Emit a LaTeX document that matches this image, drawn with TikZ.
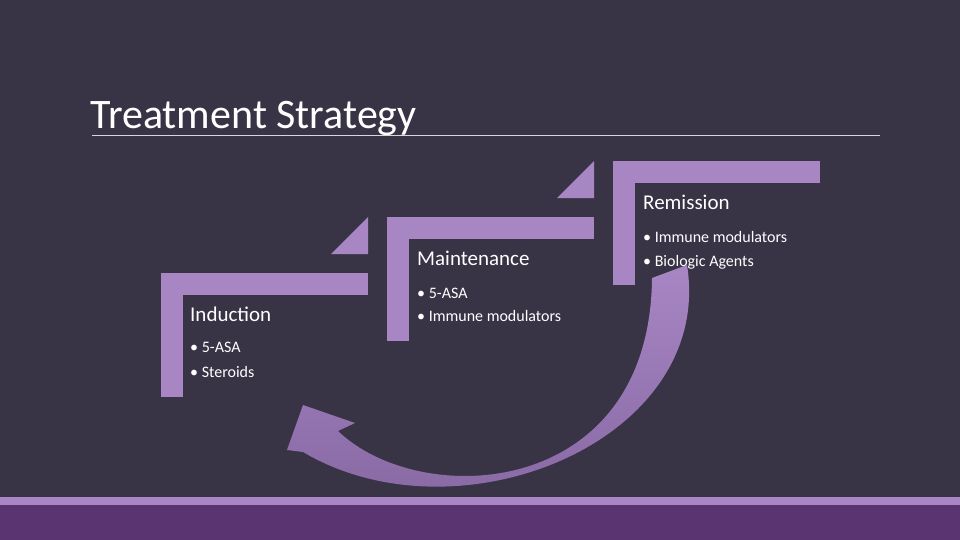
\documentclass[tikz,border=0pt]{standalone}
\usepackage{fontspec}
\setmainfont{Carlito}
\begin{document}
\begin{tikzpicture}[x=1pt,y=-1pt,
  bar/.style={fill=pu,draw=none},
  head/.style={anchor=base west,text=white,font=\fontsize{21}{24}\selectfont,inner sep=0},
  item/.style={anchor=base west,text=white,font=\fontsize{16}{19}\selectfont,inner sep=0}]
\definecolor{bg}{RGB}{56,52,70}
\definecolor{pu}{RGB}{168,134,196}
\definecolor{pud}{RGB}{130,100,158}
\definecolor{band}{RGB}{90,52,112}
\fill[bg] (0,0) rectangle (960,540);
\useasboundingbox (0,0) rectangle (960,540);
\fill[pu] (0,497) rectangle (960,505);
\fill[band] (0,505) rectangle (960,540);
\node[anchor=base west,text=white,font=\fontsize{42}{46}\selectfont\addfontfeature{LetterSpace=0},inner sep=0] (title) at (90,129) {Treatment Strategy};
\draw[white!80!bg,line width=0.8] (92,135) -- (880,135);
% steps
\foreach \dx/\dy in {0/0,226/-56,452/-112}{
  \fill[pu] (161+\dx,273+\dy) rectangle (368+\dx,295+\dy);
  \fill[pu] (161+\dx,273+\dy) rectangle (183+\dx,397+\dy);
}
\fill[pu] (331,254) -- (368,254) -- (368,217) -- cycle;
\fill[pu] (557,198) -- (594,198) -- (594,161) -- cycle;
\node[head] (i) at (190,321) {Induction};
\node[item] (i1) at (190,352) {• 5-ASA};
\node[item] (i2) at (190,377) {• Steroids};
\node[head] (m) at (417,265) {Maintenance};
\node[item] (m1) at (417,298) {• 5-ASA};
\node[item] (m2) at (417,321) {• Immune modulators};
\node[head] (r) at (643,209) {Remission};
\node[item] (r1) at (643,242) {• Immune modulators};
\node[item] (r2) at (643,266) {• Biologic Agents};
% curved arrow
\shade[left color=pu,right color=pud,shading angle=0]
 (303,405) -- (355,423) -- (338,431)
 .. controls (420,510) and (650,500) .. (652,278)
 -- (687,265)
 .. controls (715,440) and (460,545) .. (303,452)
 -- (287,450) -- cycle;
\end{tikzpicture}
\end{document}
